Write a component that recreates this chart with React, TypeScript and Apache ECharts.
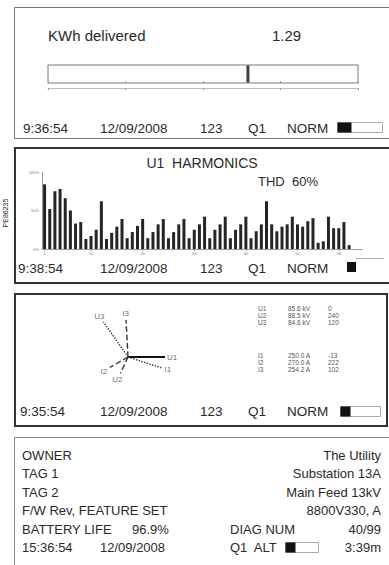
import React, { useEffect, useRef } from "react";
import * as echarts from "echarts";

// ---- data ----
const kwhLabel = "KWh delivered";
const kwhValue = 1.29;
const kwhMin = 0;
const kwhMax = 2;
const kwhTickStep = 0.5;

const harmonicTitle = "U1  HARMONICS";
const thdText = "THD  60%";
const harmonicOrders = [
  "1","2","3","4","5","6","7","8","9","10",
  "11","12","13","14","15","16","17","18","19","20",
  "21","22","23","24","25","26","27","28","29","30",
  "31","32","33","34","35","36","37","38","39","40",
  "41","42","43","44","45","46","47","48","49","50",
  "51","52","53","54","55","56","57","58","59","60",
];
const harmonicValues = [
  84, 52, 75, 78, 66, 50, 33, 35, 13, 17,
  25, 62, 13, 21, 29, 39, 14, 22, 30, 39,
  14, 22, 32, 39, 14, 22, 32, 39, 14, 25,
  32, 42, 14, 25, 32, 42, 14, 25, 32, 42,
  14, 23, 32, 62, 32, 23, 29, 32, 42, 32,
  29, 36, 40, 8, 10, 42, 27, 27, 35, 5,
];
const harmonicTickLabels = ["1", "10", "20", "30", "40", "50", "58"];

const phasorNames = ["U1", "U2", "U3", "I1", "I2", "I3"];
const phasorAngles = [0, 245, 125, 342, 210, 93];
const phasorLengths = [37, 18, 43, 35, 21, 37];
const phasorLineTypes = ["solid", "dashed", "dotted", "dotted", "dashed", "dashed"];

const tableNames = ["U1", "U2", "U3", "I1", "I2", "I3"];
const tableValues = ["85.6 kV", "88.5 kV", "84.6 kV", "250.0 A", "270.0 A", "254.2 A"];
const tableAngles = ["0", "240", "120", "-13", "222", "102"];

const statusTimes = ["9:36:54", "9:38:54", "9:35:54"];
const statusDate = "12/09/2008";
const statusCount = "123";
const statusQuad = "Q1";
const statusMode = "NORM";

const infoLabels = ["OWNER", "TAG 1", "TAG 2", "F/W Rev, FEATURE SET"];
const infoValues = ["The Utility", "Substation 13A", "Main Feed 13kV", "8800V330, A"];
const batteryLabel = "BATTERY LIFE";
const batteryValue = "96.9%";
const diagLabel = "DIAG NUM";
const diagValue = "40/99";
const footerTime = "15:36:54";
const footerDate = "12/09/2008";
const footerAlt = "Q1  ALT";
const footerRemain = "3:39m";
const sideCode = "PE86235";

const FONT = "Liberation Sans";
const INK = "#2a2a2a";

function txt(text: string, x: number, y: number, size: number, align = "left", extra: any = {}) {
  return {
    type: "text",
    x,
    y,
    silent: true,
    ...extra,
    style: {
      text,
      fontSize: size,
      fontFamily: FONT,
      fill: extra.fill || INK,
      align,
      textAlign: align,
      verticalAlign: "middle",
      textVerticalAlign: "middle",
    },
  };
}

function statusRow(time: string, y: number, timeX: number) {
  return [
    txt(time, timeX, y, 13.5),
    txt(statusDate, 100, y, 13.5),
    txt(statusCount, 200, y, 13.5),
    txt(statusQuad, 248, y, 13.5),
    txt(statusMode, 287, y, 13.5),
  ];
}

function battery(x: number, y: number, w: number, h: number, fillW: number) {
  return [
    { type: "rect", shape: { x, y, width: w, height: h }, style: { fill: "#fff", stroke: "#aaa", lineWidth: 1 } },
    { type: "rect", shape: { x, y, width: fillW, height: h }, style: { fill: "#111" } },
  ];
}

export default function App() {
  const ref = useRef<HTMLDivElement>(null);
  useEffect(() => {
    if (!ref.current) return;
    const chart = echarts.init(ref.current, null, { renderer: "svg" });

    const phasorSeries = phasorNames.map((name, i) => ({
      type: "line",
      name,
      coordinateSystem: "polar",
      polarIndex: 0,
      symbol: "none",
      data: [
        [0, phasorAngles[i]],
        [phasorLengths[i], phasorAngles[i]],
      ],
      lineStyle: {
        color: i === 0 ? "#111" : "#333",
        width: i === 0 ? 2.2 : 1.4,
        type: phasorLineTypes[i],
      },
      z: 3,
    }));

    const labelSeries = {
      type: "scatter",
      coordinateSystem: "polar",
      polarIndex: 0,
      symbolSize: 1,
      itemStyle: { color: "rgba(0,0,0,0)" },
      data: phasorNames.map((name, i) => ({
        name,
        value: [phasorLengths[i] + 7, phasorAngles[i]],
      })),
      label: {
        show: true,
        position: "inside",
        formatter: (p: any) => p.name,
        fontSize: 8,
        fontFamily: FONT,
        color: "#444",
      },
    };

    const graphics: any[] = [
      // panel frames
      { type: "rect", shape: { x: 14.5, y: 7.5, width: 390, height: 131 }, style: { fill: "none", stroke: "#777", lineWidth: 1 } },
      { type: "rect", shape: { x: 15, y: 148, width: 390, height: 135 }, style: { fill: "none", stroke: "#333", lineWidth: 2 } },
      { type: "rect", shape: { x: 15, y: 294, width: 372, height: 132 }, style: { fill: "none", stroke: "#333", lineWidth: 2 } },
      { type: "rect", shape: { x: 14.5, y: 437.5, width: 390, height: 140 }, style: { fill: "none", stroke: "#888", lineWidth: 1 } },
      // side code
      txt(sideCode, 5, 213, 7, "center", { rotation: Math.PI / 2 }),
      // panel 1
      txt(kwhLabel, 48, 35, 15),
      txt(String(kwhValue), 272, 35, 15),
      ...statusRow(statusTimes[0], 128, 23),
      ...battery(337.5, 122.5, 45, 10, 14),
      // panel 2
      txt(harmonicTitle, 202, 163, 14, "center"),
      txt(thdText, 258, 181, 13),
      ...statusRow(statusTimes[1], 268, 18),
      { type: "rect", shape: { x: 347, y: 262, width: 9, height: 10 }, style: { fill: "#111" } },
      { type: "line", shape: { x1: 356, y1: 258.5, x2: 384, y2: 258.5 }, style: { stroke: "#aaa", lineWidth: 1 } },
      // panel 3
      ...statusRow(statusTimes[2], 411, 20),
      ...battery(340.5, 406.5, 40, 10, 10),
    ];

    const tableY = [308, 315, 322, 355, 362, 369];
    tableNames.forEach((n, i) => {
      graphics.push(txt(n, 258, tableY[i], 6.5, "left", { fill: "#555" }));
      graphics.push(txt(tableValues[i], 288, tableY[i], 6.5, "left", { fill: "#555" }));
      graphics.push(txt(tableAngles[i], 328, tableY[i], 6.5, "left", { fill: "#555" }));
    });

    // panel 4
    const rowY = [455, 473.5, 492, 510.5, 529, 547.5];
    infoLabels.forEach((l, i) => {
      graphics.push(txt(l, 22, rowY[i], 13));
      graphics.push(txt(infoValues[i], 381, rowY[i], 13, "right"));
    });
    graphics.push(txt(batteryLabel, 22, rowY[4], 13));
    graphics.push(txt(batteryValue, 132, rowY[4], 13));
    graphics.push(txt(diagLabel, 230, rowY[4], 13));
    graphics.push(txt(diagValue, 381, rowY[4], 13, "right"));
    graphics.push(txt(footerTime, 22, rowY[5], 13));
    graphics.push(txt(footerDate, 100, rowY[5], 13));
    graphics.push(txt(footerAlt, 230, rowY[5], 13));
    graphics.push(...battery(285.5, 542.5, 33, 10, 10));
    graphics.push(txt(footerRemain, 381, rowY[5], 13, "right"));

    const tickAxisBase = {
      gridIndex: 0,
      type: "value",
      min: kwhMin,
      max: kwhMax,
      interval: kwhTickStep,
      offset: 5,
      axisLine: { show: true, lineStyle: { color: "#bbb", width: 1 } },
      axisTick: { show: true, length: 2, lineStyle: { color: "#999" } },
      axisLabel: { show: false },
      splitLine: { show: false },
    };

    const option: any = {
      animation: false,
      backgroundColor: "#fff",
      grid: [
        { left: 48, top: 65, width: 310, height: 18, show: true, borderColor: "#777", borderWidth: 1, backgroundColor: "#fff" },
        { left: 42, top: 172, width: 320, height: 77 },
      ],
      xAxis: [
        { ...tickAxisBase, position: "top" },
        { ...tickAxisBase, position: "bottom" },
        {
          gridIndex: 1,
          type: "category",
          data: harmonicOrders,
          max: 61,
          axisLine: { show: true, lineStyle: { color: "#999", width: 1 } },
          axisTick: {
            show: true,
            length: 2,
            alignWithLabel: true,
            interval: (idx: number, v: string) => harmonicTickLabels.includes(v),
            lineStyle: { color: "#999" },
          },
          axisLabel: {
            show: true,
            fontSize: 4,
            margin: 2,
            color: "#777",
            interval: (idx: number, v: string) => harmonicTickLabels.includes(v),
          },
          splitLine: { show: false },
        },
      ],
      yAxis: [
        { gridIndex: 0, type: "value", min: 0, max: 1, show: false },
        {
          gridIndex: 1,
          type: "value",
          min: 0,
          max: 100,
          interval: 50,
          axisLine: { show: true, lineStyle: { color: "#999", width: 1 } },
          axisTick: { show: false },
          axisLabel: { show: true, fontSize: 4, margin: 3, color: "#777", formatter: (v: number) => v + "%" },
          splitLine: { show: false },
        },
      ],
      polar: { center: [128, 357], radius: 60 },
      angleAxis: { type: "value", min: 0, max: 360, startAngle: 0, clockwise: false, show: false },
      radiusAxis: { type: "value", min: 0, max: 60, show: false },
      series: [
        {
          type: "scatter",
          xAxisIndex: 0,
          yAxisIndex: 0,
          symbol: "rect",
          symbolSize: [3, 17],
          itemStyle: { color: "#111" },
          data: [[kwhValue, 0.5]],
        },
        {
          type: "bar",
          xAxisIndex: 2,
          yAxisIndex: 1,
          barWidth: 3,
          itemStyle: { color: "#252525" },
          data: harmonicValues,
        },
        ...phasorSeries,
        labelSeries,
      ],
      graphic: graphics,
    };
    chart.setOption(option);
    return () => chart.dispose();
  }, []);

  return (
    <div
      ref={ref}
      style={{ position: "fixed", left: 0, top: 0, width: 389, height: 565, background: "#fff" }}
    />
  );
}
